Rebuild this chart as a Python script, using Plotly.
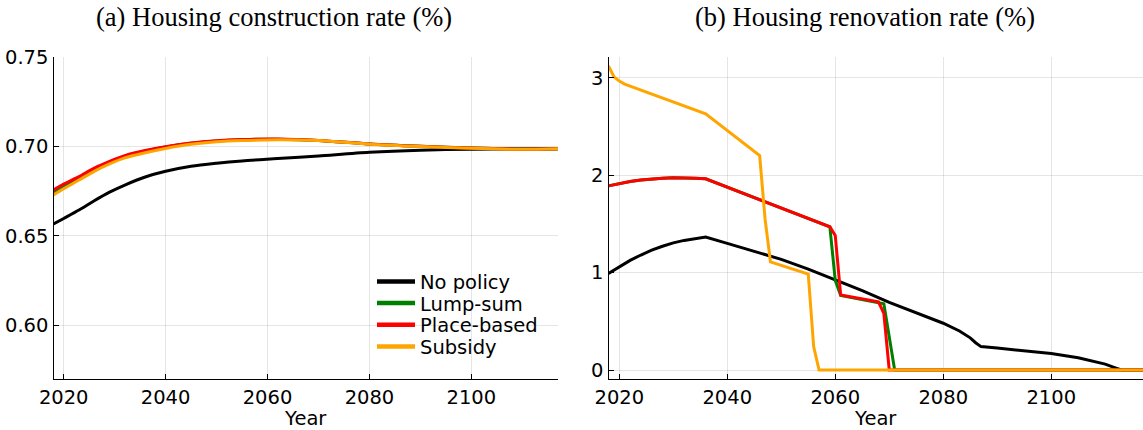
import plotly.graph_objects as go

# ---------------- data ----------------
series_names = ["No policy", "Lump-sum", "Place-based", "Subsidy"]
series_colors = ["#000000", "#008000", "#ff0000", "#ffa500"]

# (a) construction rate
years_a = [2018, 2020, 2023, 2026, 2029, 2032, 2036, 2040, 2045, 2050, 2055,
           2062, 2070, 2080, 2090, 2100, 2110, 2117]
constr_nopolicy = [0.6567, 0.6598, 0.6645, 0.6697, 0.6745, 0.6785, 0.6830, 0.6862, 0.6890,
                   0.6907, 0.6920, 0.6933, 0.6948, 0.6968, 0.6980, 0.6986, 0.6988, 0.6988]
constr_lumpsum = [0.6745, 0.6780, 0.6824, 0.6874, 0.6914, 0.6947, 0.6976, 0.6998, 0.7019,
                  0.7032, 0.7039, 0.7042, 0.7035, 0.7015, 0.7002, 0.6992, 0.6986, 0.6988]
constr_placebased = [0.6758, 0.6790, 0.6832, 0.6880, 0.6918, 0.6950, 0.6978, 0.7000, 0.7020,
                     0.7033, 0.7040, 0.7043, 0.7035, 0.7015, 0.7002, 0.6992, 0.6986, 0.6988]
constr_subsidy = [0.6730, 0.6764, 0.6813, 0.6862, 0.6903, 0.6937, 0.6966, 0.6990, 0.7013,
                  0.7027, 0.7034, 0.7038, 0.7034, 0.7014, 0.7001, 0.6991, 0.6985, 0.6988]

# (b) renovation rate
years_b_nopolicy = [2018, 2020, 2022, 2024, 2026, 2028, 2030, 2032, 2034, 2036, 2040, 2045,
                    2050, 2055, 2060, 2065, 2070, 2075, 2080, 2083, 2085, 2086, 2087, 2090,
                    2095, 2100, 2105, 2108, 2110, 2112, 2113, 2117]
renov_nopolicy = [0.99, 1.06, 1.125, 1.18, 1.23, 1.27, 1.305, 1.33, 1.35, 1.364, 1.30, 1.22,
                  1.135, 1.035, 0.925, 0.815, 0.695, 0.59, 0.48, 0.40, 0.33, 0.28, 0.24, 0.225,
                  0.20, 0.17, 0.125, 0.09, 0.06, 0.02, 0.0, 0.0]

years_b_lumpsum = [2018, 2020, 2022, 2024, 2026, 2028, 2030, 2032, 2034, 2036, 2059, 2060,
                   2061, 2069, 2071, 2117]
renov_lumpsum = [1.89, 1.915, 1.935, 1.95, 1.96, 1.967, 1.972, 1.972, 1.968, 1.963, 1.47, 0.92,
                 0.765, 0.68, 0.0, 0.0]

years_b_placebased = [2018, 2020, 2022, 2024, 2026, 2028, 2030, 2032, 2034, 2036, 2059, 2060,
                      2061, 2068, 2069, 2070, 2117]
renov_placebased = [1.89, 1.915, 1.935, 1.95, 1.96, 1.967, 1.972, 1.972, 1.968, 1.963, 1.47,
                    1.38, 0.77, 0.70, 0.58, 0.0, 0.0]

years_b_subsidy = [2018, 2019, 2020, 2021, 2036, 2046, 2047, 2048, 2055, 2056, 2057, 2117]
renov_subsidy = [3.12, 3.01, 2.965, 2.935, 2.63, 2.20, 1.55, 1.11, 0.985, 0.24, 0.0, 0.0]

xtick_vals = [2020, 2040, 2060, 2080, 2100]
ytick_vals_a = [0.60, 0.65, 0.70, 0.75]
ytick_labels_a = ["0.60", "0.65", "0.70", "0.75"]
ytick_vals_b = [0, 1, 2, 3]
title_a = "(a) Housing construction rate (%)"
title_b = "(b) Housing renovation rate (%)"
xlabel = "Year"

# ---------------- figure ----------------
W, H = 1143, 430
fig = go.Figure()

panel_a = [constr_nopolicy, constr_lumpsum, constr_placebased, constr_subsidy]
for name, col, ys in zip(series_names, series_colors, panel_a):
    fig.add_trace(go.Scatter(x=years_a, y=ys, mode="lines", name=name, showlegend=False,
                             line=dict(color=col, width=3, shape="spline", smoothing=0.8),
                             xaxis="x", yaxis="y"))

panel_b = [(years_b_nopolicy, renov_nopolicy), (years_b_lumpsum, renov_lumpsum),
           (years_b_placebased, renov_placebased), (years_b_subsidy, renov_subsidy)]
for name, col, (xs, ys) in zip(series_names, series_colors, panel_b):
    fig.add_trace(go.Scatter(x=xs, y=ys, mode="lines", name=name, showlegend=False,
                             line=dict(color=col, width=3),
                             xaxis="x2", yaxis="y2"))

# legend entries (one legend per row for exact spacing)
legend_ids = ["legend", "legend2", "legend3", "legend4"]
for name, col, lid in zip(series_names, series_colors, legend_ids):
    fig.add_trace(go.Scatter(x=[None], y=[None], mode="lines", name=name, legend=lid,
                             line=dict(color=col, width=4.5), xaxis="x", yaxis="y"))

def px_x(p):
    return p / W

def px_y(p):
    return (H - p) / H

tick_font = dict(family="DejaVu Sans", size=19.5, color="#000000")
axis_common = dict(showgrid=True, gridcolor="rgba(0,0,0,0.10)", gridwidth=1,
                   showline=True, linecolor="#000000", linewidth=1.3, mirror=False,
                   ticks="inside", ticklen=5, tickcolor="#000000", tickwidth=1,
                   zeroline=False, tickfont=tick_font, automargin=False)

y_dom = [px_y(379), px_y(57)]
fig.update_layout(
    template="none",
    width=W, height=H,
    margin=dict(l=0, r=0, t=0, b=0, pad=0, autoexpand=False),
    paper_bgcolor="white", plot_bgcolor="white",
    xaxis=dict(domain=[px_x(53.5), px_x(558)], range=[2018, 2117], tickvals=xtick_vals,
               title=dict(text=xlabel, font=dict(family="DejaVu Sans", size=19.5, color="#000"),
                          standoff=6),
               anchor="y", **axis_common),
    yaxis=dict(domain=y_dom, range=[0.5699, 0.7502], tickvals=ytick_vals_a,
               ticktext=ytick_labels_a, anchor="x", **axis_common),
    xaxis2=dict(domain=[px_x(608.5), 1.0], range=[2018, 2117], tickvals=xtick_vals,
                title=dict(text=xlabel, font=dict(family="DejaVu Sans", size=19.5, color="#000"),
                           standoff=6),
                anchor="y2", **axis_common),
    yaxis2=dict(domain=y_dom, range=[-0.0924, 3.2125], tickvals=ytick_vals_b,
                anchor="x2", **axis_common),
    annotations=[
        dict(text=title_a, x=px_x(274), y=px_y(17), xref="paper", yref="paper",
             showarrow=False, xanchor="center", yanchor="middle",
             font=dict(family="Liberation Serif", size=26.5, color="#000")),
        dict(text=title_b, x=px_x(865), y=px_y(17), xref="paper", yref="paper",
             showarrow=False, xanchor="center", yanchor="middle",
             font=dict(family="Liberation Serif", size=26.5, color="#000")),
    ],
    shapes=[dict(type="rect", xref="paper", yref="paper", layer="between",
                 x0=px_x(370), x1=px_x(557.5), y0=px_y(362), y1=px_y(258),
                 fillcolor="white", line=dict(width=0))],
)

legend_rows_y = [281.7, 303.3, 325.0, 346.7]
leg_font = dict(family="DejaVu Sans", size=19.5, color="#000000")
for lid, ry in zip(legend_ids, legend_rows_y):
    fig.update_layout({lid: dict(x=px_x(372), y=px_y(ry), xanchor="left", yanchor="middle",
                                 xref="paper", yref="paper", bgcolor="rgba(0,0,0,0)",
                                 borderwidth=0, font=leg_font, itemwidth=38)})

fig.write_html("out.html",
               config={"displayModeBar": False},
               post_script="document.body.style.margin='0px';"
                           "document.body.style.overflow='hidden';")
